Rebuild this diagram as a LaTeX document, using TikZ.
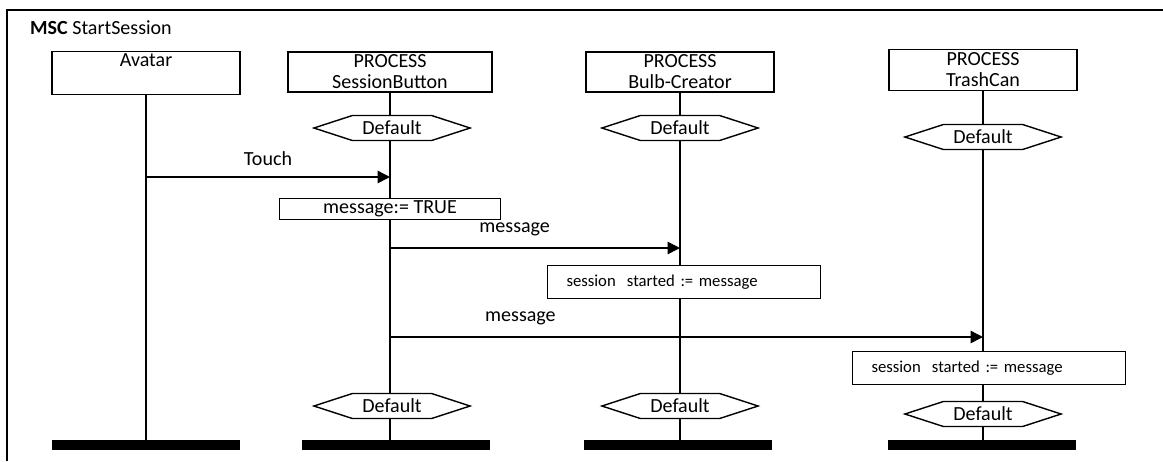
\documentclass[tikz,border=0pt]{standalone}
\usepackage{fontspec}
\setmainfont{Carlito}
\usetikzlibrary{arrows.meta,positioning,shapes.symbols}
\tikzset{
  base/.style={font=\fontsize{11.4}{12}\selectfont},
  head/.style={base, draw, thick, align=center, minimum width=3.76cm, minimum height=0.82cm, inner sep=1pt},
  cond/.style={base, draw, thick, fill=white, shape=signal, signal to=west and east, signal pointer angle=36, minimum height=0.5cm, inner xsep=0.2cm, inner ysep=1pt},
  task/.style={base, draw, thick, fill=white, minimum height=0.42cm, inner sep=1pt},
  assign/.style={draw, thick, fill=white, font=\fontsize{9.5}{11}\selectfont, text width=4.7cm, inner xsep=0.38cm, inner ysep=0pt, minimum height=0.66cm, align=left},
  stopbar/.style={fill=black, minimum width=3.76cm, minimum height=0.2cm, inner sep=0pt},
  life/.style={thick},
  msg/.style={thick, -{Triangle[length=7pt,width=7pt]}},
  frame/.style={line width=1.1pt}
}
\begin{document}
\begin{tikzpicture}[x=0.02cm, y=-0.02cm]
  \useasboundingbox (0,0) rectangle (1163,461);
  \draw[frame] (1163,10) -- (7,10) -- (7,461);
  \node[base, anchor=west] (title) at (24,28) {\textbf{MSC} StartSession};

  % instance heads
  \node[head] (avatar) at (146,73) {Avatar\\[3pt]~};
  \node[head, minimum width=4.08cm, minimum height=0.8cm] (button) at (390,72) {PROCESS\\SessionButton};
  \node[head, minimum height=0.8cm] (creator) at (680,72) {PROCESS\\Bulb-Creator};
  \node[head] (trash) at (983,70) {PROCESS\\TrashCan};

  % instance ends
  \node[stopbar] (avatarend) at (146,445) {};
  \node[stopbar] (buttonend) at (396,445) {};
  \node[stopbar] (creatorend) at (678,445) {};
  \node[stopbar] (trashend) at (982,445) {};

  \draw[life] (avatar.south) -- (avatar.south |- avatarend.north);
  \draw[life] (button.south) -- (button.south |- buttonend.north);
  \draw[life] (creator.south) -- (creator.south |- creatorend.north);
  \draw[life] (trash.south) -- (trash.south |- trashend.north);

  % start and end states
  \node[cond] (buttonstart) at (392,128) {Default};
  \node[cond] (creatorstart) at (680,128) {Default};
  \node[cond] (trashstart) at (983,137) {Default};
  \node[cond] (buttonstop) at (392,406) {Default};
  \node[cond] (creatorstop) at (680,406) {Default};
  \node[cond] (trashstop) at (983,414) {Default};

  % tasks
  \node[task, minimum width=4.42cm] (settrue) at (390,209) {message:= TRUE};
  \node[assign] (creatorset) at (684,282) {session\ \ started := message};
  \node[assign] (trashset) at (989,368) {session\ \ started := message};

  % messages
  \coordinate (touchrow) at (0,177);
  \coordinate (msgrow) at (0,248);
  \coordinate (msgrowb) at (0,337);
  \draw[msg] (avatar |- touchrow) -- (button |- touchrow) node[base, midway, above=3pt] {Touch};
  \draw[msg] (button |- msgrow) -- (creator |- msgrow) node[base, pos=0.43, above=3pt] {message};
  \draw[msg] (button |- msgrowb) -- (trash |- msgrowb) node[base, pos=0.22, above=3pt] {message};
\end{tikzpicture}
\end{document}
